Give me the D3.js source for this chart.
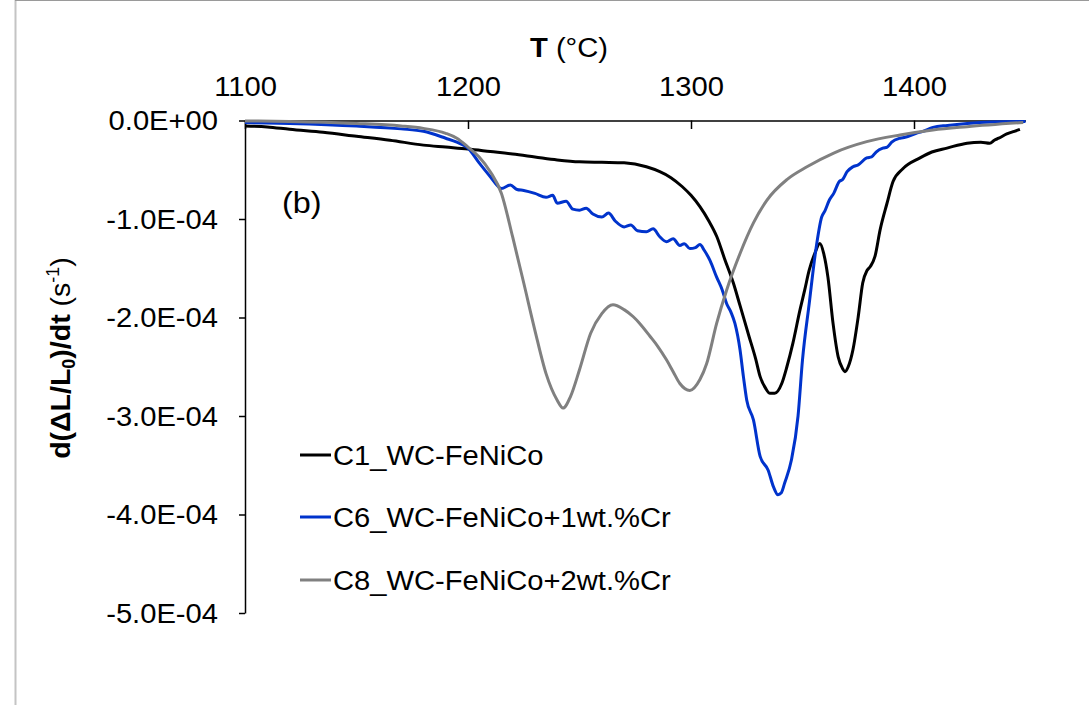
<!DOCTYPE html>
<html><head><meta charset="utf-8">
<script src="https://cdn.jsdelivr.net/npm/d3@7"></script>
<style>
html,body{margin:0;padding:0;background:#fff;}
svg{display:block;font-family:"Liberation Sans",Arial,sans-serif;}
</style></head>
<body>
<svg id="chart" width="1089" height="705"></svg>
<script>
// ---- DATA (T in °C, rate in units of 1E-4 s^-1) ----
const seriesNames = ["C1_WC-FeNiCo", "C6_WC-FeNiCo+1wt.%Cr", "C8_WC-FeNiCo+2wt.%Cr"];
const seriesColors = ["#000000", "#0033cc", "#808080"];

const c1T = [1100,1110,1120,1135,1150,1165,1180,1190,1200,1210,1220,1230,1240,1250,1260,1270,1280,1286,1291,1296,1300,1304,1308,1311.6,1315,1319,1322,1326,1329,1331,1333.5,1335.4,1337.5,1340.7,1343,1345.7,1348.9,1351,1353,1355.5,1357.8,1359.5,1361.4,1363.7,1366,1368,1369,1370.5,1372.6,1375,1377,1379,1380.5,1382.5,1384.8,1387.9,1390.6,1395,1402.7,1408,1414.8,1423.8,1430,1434,1436,1438,1441.6,1445,1447.5];
const c1V = [-0.056,-0.065,-0.09,-0.12,-0.16,-0.2,-0.25,-0.27,-0.29,-0.315,-0.34,-0.37,-0.40,-0.42,-0.425,-0.43,-0.47,-0.52,-0.58,-0.67,-0.76,-0.875,-1.02,-1.18,-1.4,-1.65,-1.88,-2.19,-2.42,-2.6,-2.72,-2.77,-2.77,-2.67,-2.5,-2.26,-1.92,-1.72,-1.52,-1.35,-1.25,-1.35,-1.59,-2.06,-2.4,-2.52,-2.55,-2.5,-2.33,-1.99,-1.65,-1.52,-1.48,-1.38,-1.11,-0.84,-0.62,-0.49,-0.38,-0.32,-0.28,-0.23,-0.22,-0.23,-0.2,-0.18,-0.137,-0.11,-0.09];

const c6T = [1100,1120,1150,1170,1180,1190,1195,1200,1205,1210,1215,1219,1222,1225,1230,1235,1238,1240,1244,1247,1250,1253,1256,1260,1263,1266,1270,1273,1276,1280,1283,1286,1289,1292,1295,1297,1299.5,1302,1304,1306,1308.5,1311.5,1314,1316,1318,1319.7,1322,1323.5,1325,1328,1331,1334.6,1337,1339,1340.5,1342,1345,1348,1350,1353,1356,1358.6,1360,1362,1364,1366.5,1368,1370,1372.6,1375,1378.8,1381,1383,1386,1388,1390,1393.7,1396,1401,1404,1408.5,1415,1423.8,1435,1450];
const c6V = [-0.02,-0.03,-0.056,-0.085,-0.11,-0.18,-0.22,-0.28,-0.43,-0.57,-0.69,-0.655,-0.70,-0.71,-0.74,-0.78,-0.76,-0.84,-0.82,-0.90,-0.91,-0.89,-0.95,-0.98,-0.94,-1.02,-1.08,-1.06,-1.12,-1.13,-1.10,-1.18,-1.23,-1.20,-1.27,-1.25,-1.30,-1.29,-1.26,-1.32,-1.42,-1.59,-1.72,-1.86,-1.95,-2.06,-2.33,-2.6,-2.84,-3.04,-3.41,-3.55,-3.72,-3.80,-3.78,-3.68,-3.45,-3.0,-2.43,-1.86,-1.31,-0.98,-0.92,-0.81,-0.74,-0.62,-0.60,-0.52,-0.47,-0.45,-0.38,-0.37,-0.32,-0.28,-0.27,-0.22,-0.18,-0.17,-0.13,-0.11,-0.07,-0.05,-0.03,-0.015,-0.01];

const c8T = [1100,1120,1150,1170,1180,1190,1195,1200,1205,1210,1215,1220,1225,1230,1235,1240,1242.6,1246,1250,1255,1260,1265,1270,1274,1277,1281.6,1285,1289,1292,1295,1299.5,1304,1307,1311.5,1316,1322,1328,1334,1343,1352,1364,1378.8,1393.7,1408.5,1423.8,1449];
const c8V = [-0.005,-0.01,-0.03,-0.055,-0.08,-0.13,-0.18,-0.27,-0.37,-0.52,-0.74,-1.18,-1.65,-2.13,-2.57,-2.84,-2.92,-2.80,-2.53,-2.16,-1.96,-1.87,-1.92,-1.99,-2.06,-2.19,-2.29,-2.43,-2.55,-2.67,-2.74,-2.63,-2.47,-2.06,-1.72,-1.35,-1.04,-0.81,-0.60,-0.47,-0.33,-0.215,-0.147,-0.096,-0.063,-0.02];

const xTicks = [1100, 1200, 1300, 1400];
const yTicks = [0, -1e-4, -2e-4, -3e-4, -4e-4, -5e-4];
const yTickLabels = ["0.0E+00", "-1.0E-04", "-2.0E-04", "-3.0E-04", "-4.0E-04", "-5.0E-04"];

// ---- LAYOUT ----
const svg = d3.select("#chart");
const FS = 27, SX = 1.08;
const x = d3.scaleLinear().domain([1100, 1450]).range([245, 1025.5]);
const y = d3.scaleLinear().domain([0, -5e-4]).range([120.5, 613]);

// frame
svg.append("line").attr("x1", 15.5).attr("x2", 15.5).attr("y1", 0).attr("y2", 705).attr("stroke", "#c4c4c4").attr("stroke-width", 2);
svg.append("line").attr("x1", 15).attr("x2", 1089).attr("y1", 0.5).attr("y2", 0.5).attr("stroke", "#9a9a9a").attr("stroke-width", 1);

function stretch(sel) {
  sel.each(function() {
    const t = d3.select(this);
    const xx = +t.attr("x") || 0;
    const yy = +t.attr("y") || 0;
    t.attr("x", 0).attr("y", 0).attr("transform", `translate(${xx},${yy}) scale(${SX},1)`);
  });
}

// x axis (top)
const gx = svg.append("g").attr("transform", `translate(0,${y(0)})`)
  .call(d3.axisTop(x).tickValues(xTicks).tickFormat(d3.format("d")).tickSizeInner(-8.5).tickSizeOuter(0).tickPadding(25));
gx.selectAll("text").attr("font-size", FS).attr("fill", "#000").attr("font-family", "Liberation Sans, Arial, sans-serif");
gx.selectAll(".tick line").attr("stroke", "#000").attr("stroke-width", 1.5);
gx.select(".domain").attr("stroke", "#000").attr("stroke-width", 1.5);
stretch(gx.selectAll("text"));

// y axis
const gy = svg.append("g").attr("transform", `translate(${x(1100)},0)`)
  .call(d3.axisLeft(y).tickValues(yTicks).tickFormat((d, i) => yTickLabels[i]).tickSizeInner(6).tickSizeOuter(0).tickPadding(21));
gy.selectAll("text").attr("font-size", FS).attr("fill", "#000").attr("font-family", "Liberation Sans, Arial, sans-serif").attr("dy", "0.35em");
gy.selectAll(".tick line").attr("stroke", "#000").attr("stroke-width", 1.5);
gy.select(".domain").attr("stroke", "#000").attr("stroke-width", 1.5);
stretch(gy.selectAll("text"));

// lines
const seriesT = [c1T, c6T, c8T];
const seriesV = [c1V, c6V, c8V];
const line = d3.line().x(d => x(d[0])).y(d => y(d[1] * 1e-4)).curve(d3.curveMonotoneX);
[0, 1, 2].forEach(i => {
  const pts = seriesT[i].map((t, k) => [t, seriesV[i][k]]);
  svg.append("path").datum(pts).attr("d", line).attr("fill", "none")
    .attr("stroke", seriesColors[i]).attr("stroke-width", 3).attr("stroke-linejoin", "round");
});

// x title
const tt = svg.append("text").attr("transform", `translate(569,57) scale(${SX},1)`).attr("text-anchor", "middle").attr("font-size", FS);
tt.append("tspan").attr("font-weight", "bold").text("T");
tt.append("tspan").text(" (°C)");

// y title
const yt = svg.append("text").attr("transform", `translate(70,358) rotate(-90)`).attr("text-anchor", "middle").attr("font-size", 28.5);
yt.append("tspan").attr("font-weight", "bold").text("d(ΔL/L");
yt.append("tspan").attr("font-weight", "bold").attr("font-size", 18).attr("dy", 5).text("0");
yt.append("tspan").attr("font-weight", "bold").attr("dy", -5).text(")/dt");
yt.append("tspan").text(" (s");
yt.append("tspan").attr("font-size", 18).attr("dy", -11).text("-1");
yt.append("tspan").attr("dy", 11).text(")");

// panel label
svg.append("text").attr("transform", `translate(282,213) scale(${SX},1)`).attr("font-size", 30).text("(b)");

// legend
const legY = [455, 517, 580];
seriesNames.forEach((n, i) => {
  svg.append("line").attr("x1", 300).attr("x2", 331).attr("y1", legY[i]).attr("y2", legY[i])
    .attr("stroke", seriesColors[i]).attr("stroke-width", 3);
  svg.append("text").attr("transform", `translate(333,${legY[i] + 9.5}) scale(${SX},1)`).attr("font-size", FS).text(n);
});
</script>
</body></html>
